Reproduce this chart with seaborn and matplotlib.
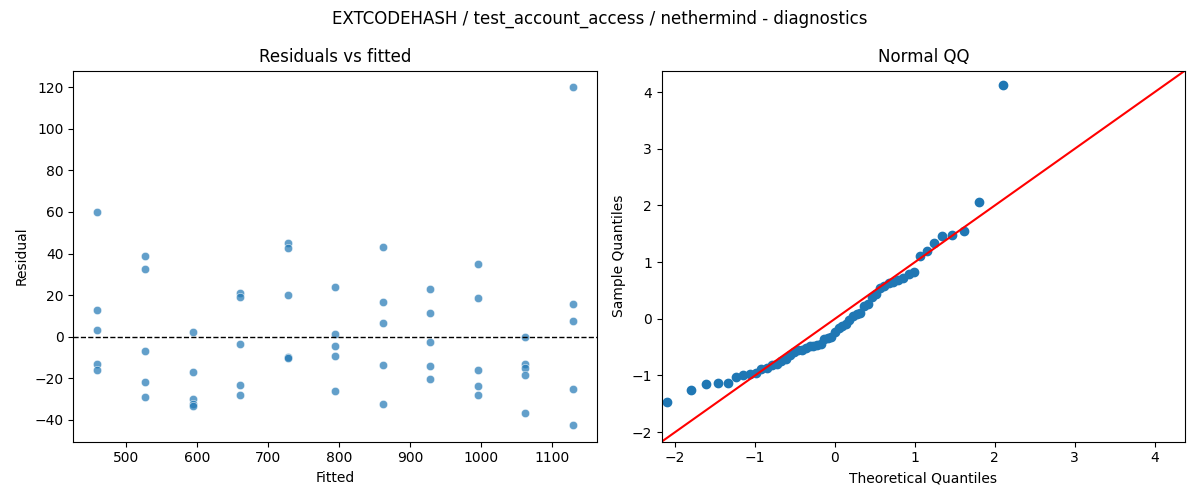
import numpy as np
import pandas as pd
import matplotlib
matplotlib.use("Agg")
import matplotlib.pyplot as plt
import seaborn as sns
from statistics import NormalDist

# fitted value levels and residuals
fitted_levels = [460, 527, 594, 661, 728, 795, 862, 928, 995, 1062, 1129]
residuals_by_level = [
    [59.9, 12.8, 3.2, -13.1, -16.0],
    [38.9, 32.5, -6.9, -21.7, -28.9],
    [2.3, -16.9, -29.9, -32.6, -33.3],
    [21.1, 18.9, -3.4, -23.2, -28.0],
    [45.1, 42.6, 20.0, -9.7, -10.1],
    [23.9, 1.3, -4.5, -9.3, -25.9],
    [43.2, 16.7, 6.6, -13.6, -32.6],
    [23.0, 11.5, -2.5, -14.1, -20.3],
    [35.0, 18.6, -16.0, -23.5, -27.8],
    [-0.3, -13.0, -14.9, -18.4, -36.5],
    [119.9, 15.7, 7.7, -25.1, -42.4],
]

title = "EXTCODEHASH / test_account_access / nethermind - diagnostics"
qq_lims = [-2.17, 4.38]

rows = []
for lvl, res in zip(fitted_levels, residuals_by_level):
    for r in res:
        rows.append({"fitted": lvl, "resid": r})
df = pd.DataFrame(rows)

fig, (ax1, ax2) = plt.subplots(1, 2, figsize=(12, 5), dpi=100)

# residuals vs fitted
sns.scatterplot(data=df, x="fitted", y="resid", alpha=0.7, ax=ax1)
ax1.axhline(0, color="black", linestyle="--", linewidth=1)
ax1.set_title("Residuals vs fitted")
ax1.set_xlabel("Fitted")
ax1.set_ylabel("Residual")

# normal QQ (standardized, 45 degree line)
r = np.sort(df["resid"].to_numpy())
n = len(r)
z = (r - r.mean()) / r.std()
nd = NormalDist()
theo = np.array([nd.inv_cdf(i / (n + 1)) for i in range(1, n + 1)])
ax2.plot(theo, z, "o", color="C0")
ax2.plot(qq_lims, qq_lims, "r", linewidth=1.5)
ax2.set_xlim(qq_lims)
ax2.set_ylim(qq_lims)
ax2.set_title("Normal QQ")
ax2.set_xlabel("Theoretical Quantiles")
ax2.set_ylabel("Sample Quantiles")

fig.suptitle(title)
plt.tight_layout()
plt.savefig("out.png", dpi=100)
plt.close()
